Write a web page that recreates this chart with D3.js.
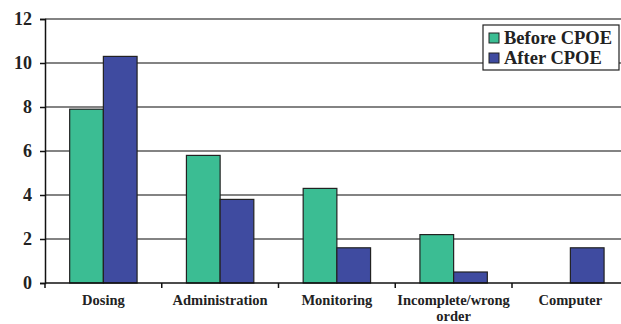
<!DOCTYPE html>
<html>
<head>
<meta charset="utf-8">
<script src="https://cdn.jsdelivr.net/npm/d3@7"></script>
<style>
  html, body { margin: 0; padding: 0; background: #fff; }
  svg { display: block; }
</style>
</head>
<body>
<svg id="chart" width="621" height="324"></svg>
<script>
// Medication error categories and counts before / after CPOE
const categories = ["Dosing", "Administration", "Monitoring", "Incomplete/wrong order", "Computer"];
const seriesNames = ["Before CPOE", "After CPOE"];
const beforeValues = [7.9, 5.8, 4.3, 2.2, 0];
const afterValues = [10.3, 3.8, 1.6, 0.5, 1.6];
const yTicks = [0, 2, 4, 6, 8, 10, 12];
const colors = ["#3bbd93", "#3f4ba0"];

(function () {
  const FONT = '"Liberation Serif", "Times New Roman", serif';
  const svg = d3.select("#chart");
  const plotLeft = 45, plotTop = 19, plotBottom = 283;
  const bandStep = 116.75;
  const plotRight = plotLeft + bandStep * categories.length;

  const x = d3.scaleBand().domain(categories).range([plotLeft, plotRight]).paddingInner(0).paddingOuter(0);
  const y = d3.scaleLinear().domain([0, 12]).range([plotBottom, plotTop]);

  // horizontal gridlines
  svg.append("g").selectAll("line").data(yTicks.filter(d => d > 0)).join("line")
    .attr("x1", plotLeft).attr("x2", plotRight)
    .attr("y1", d => y(d)).attr("y2", d => y(d))
    .attr("stroke", "#5a5a5a").attr("stroke-width", 1.5);

  // bars: each category gets a before/after pair centred on the band
  const rows = categories.map((c, i) => ({ c, vals: [beforeValues[i], afterValues[i]] }));
  const barW = 33.7;
  const g = svg.append("g");
  rows.forEach(r => {
    const cx = x(r.c) + x.bandwidth() / 2;
    r.vals.forEach((v, k) => {
      if (v <= 0) return;
      g.append("rect")
        .attr("x", cx - barW + k * barW)
        .attr("y", y(v))
        .attr("width", barW)
        .attr("height", y(0) - y(v))
        .attr("fill", colors[k])
        .attr("stroke", "#222")
        .attr("stroke-width", 1.2);
    });
  });

  // y axis
  const yAxis = d3.axisLeft(y).tickValues(yTicks).tickSize(5).tickPadding(8).tickFormat(d3.format("d"));
  const ya = svg.append("g").attr("transform", `translate(${plotLeft},0)`).call(yAxis);
  ya.select(".domain").attr("stroke", "#111").attr("stroke-width", 1.5);
  ya.selectAll(".tick line").attr("stroke", "#111").attr("stroke-width", 1.5);
  ya.selectAll(".tick text")
    .style("font-family", FONT).style("font-weight", "bold").style("font-size", "18px")
    .attr("fill", "#222").attr("dy", "0.33em");

  // x axis baseline with ticks at category boundaries
  svg.append("line").attr("x1", plotLeft).attr("x2", plotRight).attr("y1", plotBottom).attr("y2", plotBottom)
    .attr("stroke", "#111").attr("stroke-width", 1.5);
  svg.append("g").selectAll("line").data(categories).join("line")
    .attr("x1", d => x(d)).attr("x2", d => x(d))
    .attr("y1", plotBottom).attr("y2", plotBottom + 5)
    .attr("stroke", "#111").attr("stroke-width", 1.5);

  // category labels
  const labelLines = { "Incomplete/wrong order": ["Incomplete/wrong", "order"] };
  svg.append("g").selectAll("text").data(categories).join("text")
    .attr("text-anchor", "middle")
    .style("font-family", FONT).style("font-weight", "bold").style("font-size", "14.5px")
    .attr("fill", "#222")
    .each(function (d) {
      const lines = labelLines[d] || [d];
      const t = d3.select(this);
      lines.forEach((ln, i) => {
        t.append("tspan").attr("x", x(d) + x.bandwidth() / 2).attr("y", 305 + i * 16).text(ln);
      });
    });

  // legend
  const lg = svg.append("g");
  lg.append("rect").attr("x", 483).attr("y", 25).attr("width", 136).attr("height", 45)
    .attr("fill", "#fff").attr("stroke", "#222").attr("stroke-width", 1.2);
  seriesNames.forEach((s, i) => {
    lg.append("rect").attr("x", 489).attr("y", 33 + i * 20).attr("width", 10).attr("height", 10)
      .attr("fill", colors[i]).attr("stroke", "#222").attr("stroke-width", 1);
    lg.append("text").attr("x", 504).attr("y", 44 + i * 20)
      .style("font-family", FONT).style("font-weight", "bold").style("font-size", "18.5px")
      .attr("fill", "#222").text(s);
  });
})();
</script>
</body>
</html>
